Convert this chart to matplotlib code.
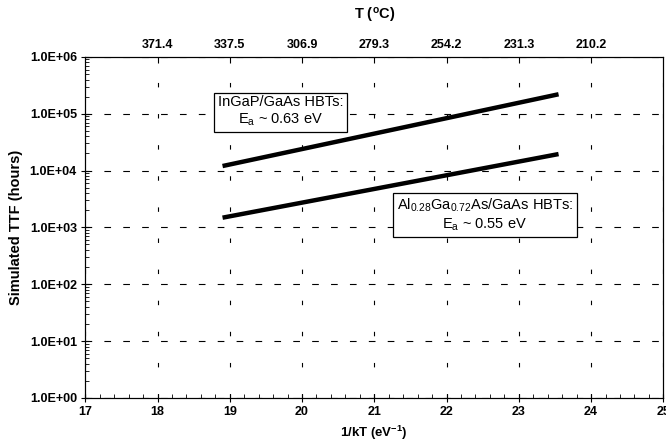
import numpy as np
from matplotlib import pyplot as plt
from matplotlib.ticker import LogLocator, NullFormatter, MultipleLocator

plt.rcParams['font.family'] = ['Liberation Sans', 'DejaVu Sans']
plt.rcParams['mathtext.fontset'] = 'custom'
plt.rcParams['mathtext.rm'] = 'Liberation Sans'
plt.rcParams['mathtext.it'] = 'Liberation Sans'
plt.rcParams['mathtext.bf'] = 'Liberation Sans:bold'

# data
x_ingap = [18.9, 23.55]
ttf_ingap = [1.2e4, 2.2e5]
x_algaas = [18.9, 23.55]
ttf_algaas = [1.48e3, 1.95e4]

top_ticks = [18, 19, 20, 21, 22, 23, 24]
top_labels = ['371.4', '337.5', '306.9', '279.3', '254.2', '231.3', '210.2']
y_ticks = [1e0, 1e1, 1e2, 1e3, 1e4, 1e5, 1e6]
y_labels = ['1.0E+00', '1.0E+01', '1.0E+02', '1.0E+03', '1.0E+04', '1.0E+05', '1.0E+06']

fig = plt.figure(figsize=(6.66, 4.48), dpi=100)
ax = fig.add_axes([0.128, 0.112, 0.868, 0.761])

ax.plot(x_ingap, ttf_ingap, color='black', lw=3.2, solid_capstyle='butt')
ax.plot(x_algaas, ttf_algaas, color='black', lw=3.2, solid_capstyle='butt')

ax.set_yscale('log')
ax.set_xlim(17, 25)
ax.set_ylim(1e0, 1e6)
ax.set_xticks(range(17, 26))
ax.xaxis.set_minor_locator(MultipleLocator(0.2))
ax.set_yticks(y_ticks)
ax.set_yticklabels(y_labels)
ax.yaxis.set_minor_locator(LogLocator(base=10, subs=np.arange(2, 10)))
ax.yaxis.set_minor_formatter(NullFormatter())

ax.tick_params(axis='both', which='major', direction='inout', length=6, width=0.8,
               labelsize=9, pad=3)
ax.tick_params(axis='x', which='minor', direction='in', length=3, width=0.6)
ax.tick_params(axis='y', which='minor', direction='in', length=3, width=0.6)
for lab in ax.get_xticklabels() + ax.get_yticklabels():
    lab.set_fontweight('bold')

ax.xaxis.grid(True, which='major', color='black', lw=0.8, dashes=(4, 24))
ax.yaxis.grid(True, which='major', color='black', lw=0.8, dashes=(6, 11))

ax.set_xlabel('1/kT (eV$^{\\mathbf{-1}}$)', fontsize=9.5, fontweight='bold')
ax.set_ylabel('Simulated TTF (hours)', fontsize=10.5, fontweight='bold', labelpad=5)

top = ax.twiny()
top.set_xlim(ax.get_xlim())
top.set_xticks(top_ticks)
top.set_xticklabels(top_labels)
top.tick_params(axis='x', direction='in', length=4, width=0.8, labelsize=9, pad=4)
for lab in top.get_xticklabels():
    lab.set_fontweight('bold')
top.set_xlabel('T ($^{\\mathbf{o}}$C)', fontsize=10.5, fontweight='bold', labelpad=14)

box = dict(boxstyle='square,pad=0.25', facecolor='white', edgecolor='black', lw=0.9)
ax.text(0.338, 0.839, 'InGaP/GaAs HBTs:\nE$_{\\mathrm{a}}$ ~ 0.63 eV', transform=ax.transAxes,
        ha='center', va='center', fontsize=10.5, linespacing=1.25, bbox=box, zorder=5)
ax.text(0.691, 0.537, 'Al$_{\\mathrm{0.28}}$Ga$_{\\mathrm{0.72}}$As/GaAs HBTs:\nE$_{\\mathrm{a}}$ ~ 0.55 eV',
        transform=ax.transAxes, ha='center', va='center', fontsize=10.5, linespacing=1.25,
        bbox=box, zorder=5)

plt.savefig('out.png', dpi=100)
